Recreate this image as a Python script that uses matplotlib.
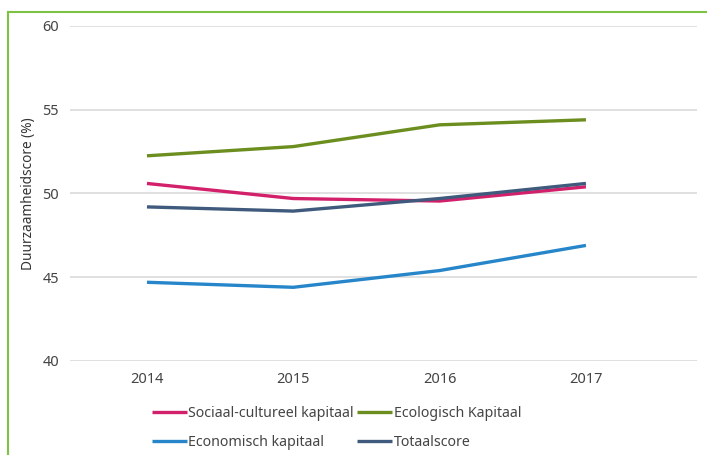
import matplotlib
matplotlib.use("Agg")
import matplotlib.pyplot as plt
from matplotlib.lines import Line2D

years = [2014, 2015, 2016, 2017]
sociaal = [50.6, 49.7, 49.55, 50.4]
ecologisch = [52.25, 52.8, 54.1, 54.4]
economisch = [44.7, 44.4, 45.4, 46.9]
totaal = [49.2, 48.95, 49.7, 50.6]
yticks = [40, 45, 50, 55, 60]
labels = ["Sociaal-cultureel kapitaal", "Ecologisch Kapitaal",
          "Economisch kapitaal", "Totaalscore"]
colors = ["#d3206b", "#6b8e1f", "#2686c9", "#3f5a7c"]

plt.rcParams['font.family'] = ['Noto Sans', 'DejaVu Sans']

W, H = 707, 455
fig = plt.figure(figsize=(W / 100, H / 100), dpi=100)
ax = fig.add_axes([70 / W, 1 - 361 / H, 627 / W, 335 / H])

series = [sociaal, ecologisch, economisch, totaal]
handles = []
for vals, c, lab in zip(series, colors, labels):
    h, = ax.plot(years, vals, color=c, lw=2.4, label=lab, solid_capstyle='butt', zorder=3)
    handles.append(h)

ax.set_ylim(40, 60)
ax.set_xlim(2013.474, 2017.759)
ax.set_yticks(yticks)
ax.set_xticks(years)
ax.set_xticklabels([str(y) for y in years])
ax.grid(axis='y', color='#dddddd', lw=1.3)
ax.grid(axis='x', visible=False)
ax.set_axisbelow(True)
for s in ax.spines.values():
    s.set_visible(False)
ax.tick_params(length=0, labelsize=10.5, colors='#444444')
ax.tick_params(axis='y', pad=8)
ax.tick_params(axis='x', pad=8)
ax.set_ylabel("Duurzaamheidscore (%)", fontsize=9.8, color='#333333')
ax.yaxis.set_label_coords((36 - 70) / 627, 0.5)

order = [0, 2, 1, 3]
leg = fig.legend([handles[i] for i in order], [labels[i] for i in order], ncol=2,
                 loc='upper left', bbox_to_anchor=(146 / W, 1 - 400 / H),
                 frameon=False, fontsize=10.2, handlelength=2.5, handletextpad=0.1,
                 columnspacing=0.2, labelspacing=1.0, borderaxespad=0)
for t in leg.get_texts():
    t.set_color('#444444')

border = '#7dc242'
fig.add_artist(Line2D([8 / W, 1], [1 - 12 / H, 1 - 12 / H], color=border, lw=1.5,
                      transform=fig.transFigure))
fig.add_artist(Line2D([8 / W, 8 / W], [0, 1 - 12 / H], color=border, lw=1.5,
                      transform=fig.transFigure))

fig.savefig("out.png", dpi=100)
